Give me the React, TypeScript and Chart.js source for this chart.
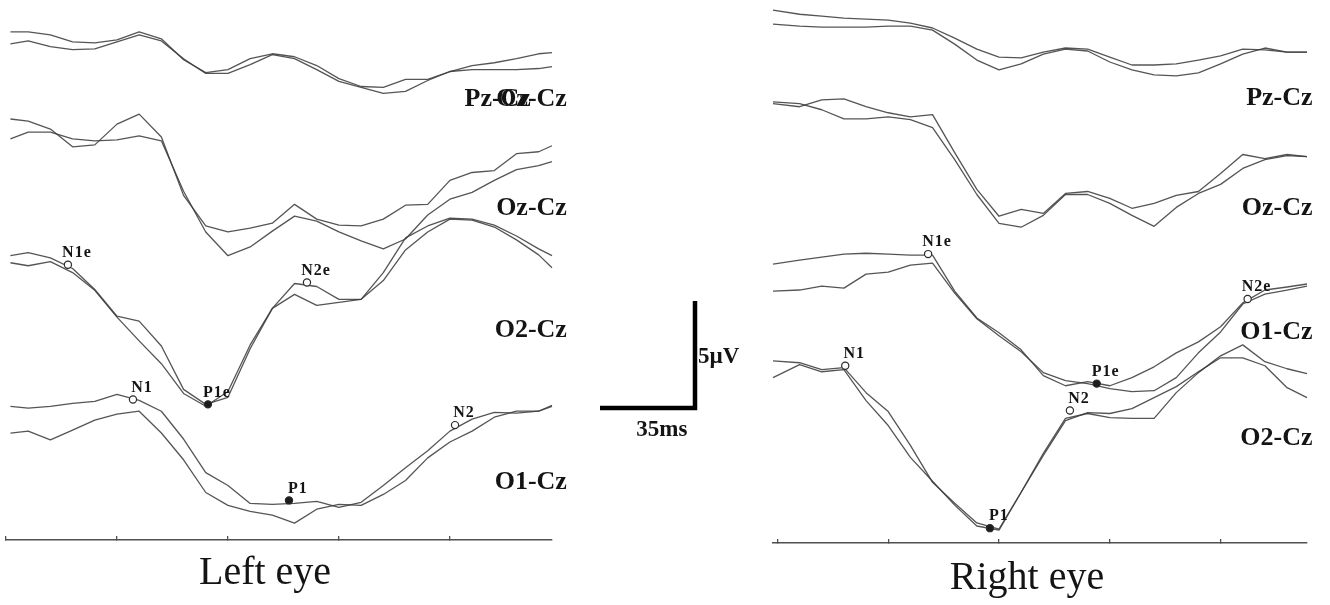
import React, { useEffect, useRef } from "react";
import { Chart, registerables } from "chart.js";

Chart.register(...registerables);

const SERIF = '"Liberation Serif", "Times New Roman", Times, serif';
const TRACE_COLOR = "rgba(62,62,62,0.88)";
const AXIS_COLOR = "#505050";
const TEXT_COLOR = "#141414";

// ---------- time axis (ms) ----------
const TICK_MS = [0, 50, 100, 150, 200];

// ---------- LEFT EYE (µV, negative-up display, offsets stacked) ----------
const LEFT_TIME = [2, 10, 20, 30, 40, 50, 60, 70, 80, 90, 100, 110, 120, 130, 140, 150, 160, 170, 180, 190, 200, 210, 220, 230, 240, 246];

const L_PZ_A = [1.25, 1.25, 1.39, 1.71, 1.76, 1.62, 1.25, 1.57, 2.55, 3.15, 3.01, 2.5, 2.27, 2.41, 2.82, 3.43, 3.8, 3.84, 3.47, 3.47, 3.1, 2.82, 2.69, 2.5, 2.27, 2.22];
const L_PZ_B = [1.81, 1.67, 1.94, 2.08, 2.04, 1.71, 1.39, 1.67, 2.5, 3.19, 3.19, 2.78, 2.31, 2.5, 3.01, 3.56, 3.84, 4.12, 4.03, 3.52, 3.1, 3.01, 3.01, 3.01, 2.96, 2.87];
const L_OZ_A = [5.32, 5.42, 5.79, 6.62, 6.53, 5.56, 5.09, 6.16, 8.89, 10.32, 10.6, 10.42, 10.19, 9.31, 10.0, 10.28, 10.32, 10.0, 9.35, 9.31, 8.19, 7.82, 7.73, 6.94, 6.85, 6.57];
const L_OZ_B = [6.25, 5.93, 5.93, 6.25, 6.34, 6.3, 6.11, 6.34, 8.7, 10.6, 11.71, 11.3, 10.56, 9.86, 10.09, 10.6, 11.02, 11.39, 10.93, 9.81, 9.07, 8.75, 8.19, 7.69, 7.5, 7.31];
const L_O2_A = [11.71, 11.57, 11.81, 12.31, 13.29, 14.54, 14.77, 15.93, 17.96, 18.66, 18.33, 16.06, 14.17, 13.01, 13.15, 13.75, 13.75, 12.5, 10.88, 10.32, 9.95, 10.0, 10.28, 10.79, 11.39, 11.71];
const L_O2_B = [12.04, 12.18, 11.99, 12.5, 13.33, 14.58, 15.69, 16.76, 18.15, 18.75, 18.06, 15.88, 14.17, 13.52, 14.03, 13.89, 13.75, 12.87, 11.44, 10.6, 10.0, 10.05, 10.37, 10.97, 11.67, 12.27];
const L_O1_A = [18.75, 18.84, 18.75, 18.61, 18.52, 18.19, 18.47, 18.98, 20.28, 21.85, 22.45, 23.29, 23.33, 23.29, 23.19, 23.47, 23.24, 22.45, 21.62, 20.83, 19.91, 19.35, 19.03, 19.07, 18.98, 18.7];
const L_O1_B = [20.0, 19.91, 20.32, 19.86, 19.4, 19.12, 18.98, 20.0, 21.25, 22.78, 23.38, 23.66, 23.84, 24.21, 23.56, 23.33, 23.38, 22.87, 22.22, 21.16, 20.42, 19.91, 19.26, 18.98, 18.98, 18.75];

const L_PEAK_NAMES = ["N1e", "P1e", "N2e", "N1", "P1", "N2"];
const L_PEAK_MS = [27.9, 91.0, 135.6, 57.2, 127.5, 202.3];
const L_PEAK_UV = [12.13, 18.66, 12.96, 18.43, 23.15, 19.63];

const L_CHANNELS = ["Pz-Cz", "Oz-Cz", "Oz-Cz", "O2-Cz", "O1-Cz"];
const L_CHANNEL_MS = [236.5, 252.7, 252.7, 252.7, 252.7];
const L_CHANNEL_UV = [4.4, 4.4, 9.49, 15.19, 22.31];

const L_TITLE = "Left eye";
const L_TITLE_MS = 116.7;
const L_TITLE_UV = 26.57;

// ---------- RIGHT EYE ----------
const RIGHT_TIME = [-2, 10, 20, 30, 40, 50, 60, 70, 80, 90, 100, 110, 120, 130, 140, 150, 160, 170, 180, 190, 200, 210, 220, 230, 239];

const R_PZ_A = [0.23, 0.42, 0.51, 0.6, 0.65, 0.69, 0.83, 1.06, 1.53, 2.04, 2.41, 2.45, 2.18, 1.99, 2.04, 2.41, 2.78, 2.78, 2.73, 2.55, 2.36, 2.04, 2.08, 2.18, 2.18];
const R_PZ_B = [0.88, 0.97, 1.02, 1.02, 1.02, 0.97, 0.97, 1.16, 1.81, 2.55, 3.01, 2.73, 2.27, 2.04, 2.13, 2.64, 3.01, 3.24, 3.29, 3.15, 2.73, 2.27, 1.99, 2.18, 2.18];
const R_OZ_A = [4.58, 4.72, 4.4, 4.35, 4.72, 5.0, 5.19, 5.09, 6.85, 8.56, 9.81, 9.49, 9.68, 8.75, 8.66, 8.98, 9.44, 9.21, 8.84, 8.66, 7.82, 6.94, 7.13, 6.94, 7.04];
const R_OZ_B = [4.49, 4.58, 4.86, 5.28, 5.28, 5.19, 5.32, 5.69, 7.18, 8.8, 10.14, 10.32, 9.77, 8.8, 8.8, 9.21, 9.77, 10.28, 9.4, 8.75, 8.33, 7.59, 7.18, 6.99, 7.04];
const R_O1_A = [12.04, 11.85, 11.71, 11.57, 11.53, 11.57, 11.62, 11.62, 13.29, 14.54, 15.23, 16.02, 17.22, 17.69, 17.5, 17.69, 17.31, 16.81, 16.16, 15.65, 14.95, 13.84, 13.24, 13.1, 12.96];
const R_O1_B = [13.29, 13.24, 13.06, 13.15, 12.5, 12.41, 12.08, 11.99, 13.38, 14.58, 15.37, 16.11, 17.08, 17.45, 17.59, 17.82, 17.96, 17.92, 17.31, 16.16, 15.19, 13.89, 13.43, 13.24, 13.06];
const R_O2_A = [16.53, 16.62, 16.94, 16.85, 18.01, 18.89, 20.46, 22.18, 23.15, 24.07, 24.35, 22.64, 20.83, 19.21, 18.98, 19.17, 19.21, 19.21, 18.01, 17.08, 16.3, 15.79, 16.57, 16.9, 17.13];
const R_O2_B = [17.31, 16.71, 17.04, 16.94, 18.38, 19.54, 21.02, 22.13, 23.24, 24.21, 24.4, 22.64, 20.93, 19.31, 18.94, 18.98, 18.75, 18.24, 17.73, 17.04, 16.39, 16.39, 16.76, 17.78, 18.24];

const R_PEAK_NAMES = ["N1e", "P1e", "N2e", "N1", "P1", "N2"];
const R_PEAK_MS = [68.0, 144.1, 212.2, 30.6, 95.9, 132.0];
const R_PEAK_UV = [11.57, 17.59, 13.66, 16.76, 24.31, 18.84];

const R_CHANNELS = ["Pz-Cz", "Oz-Cz", "O1-Cz", "O2-Cz"];
const R_CHANNEL_MS = [241.5, 241.5, 241.5, 241.5];
const R_CHANNEL_UV = [4.35, 9.44, 15.19, 20.14];

const R_TITLE = "Right eye";
const R_TITLE_MS = 112.6;
const R_TITLE_UV = 26.67;

// ---------- calibration bar ----------
const BAR_MS = 35;
const BAR_UV = 5;

type TextItem = { text: string; x: number; y: number; align: CanvasTextAlign; font: string; spacing?: number };

function textPlugin(items: TextItem[]) {
  return {
    id: "texts",
    afterDatasetsDraw(chart: any) {
      const { ctx, scales } = chart;
      ctx.save();
      for (const it of items) {
        const px = scales.x.getPixelForValue(it.x);
        const py = scales.y.getPixelForValue(it.y);
        ctx.font = it.font;
        ctx.fillStyle = TEXT_COLOR;
        ctx.textAlign = it.align;
        ctx.textBaseline = "middle";
        (ctx as any).letterSpacing = `${it.spacing ?? 0}px`;
        ctx.fillText(it.text, px, py);
      }
      ctx.restore();
    },
  };
}

const peakLabelPlugin = {
  id: "peakLabels",
  afterDatasetsDraw(chart: any) {
    const { ctx } = chart;
    const meta = chart.getDatasetMeta(0);
    const names: string[] = chart.data.datasets[0].peakNames || [];
    ctx.save();
    ctx.font = `bold 16px ${SERIF}`;
    ctx.fillStyle = TEXT_COLOR;
    ctx.textAlign = "center";
    ctx.textBaseline = "middle";
    (ctx as any).letterSpacing = "1px";
    meta.data.forEach((pt: any, i: number) => {
      ctx.fillText(names[i], pt.x + 9, pt.y - 12);
    });
    ctx.restore();
  },
};

function buildPanel(p: {
  time: number[];
  traces: number[][];
  peakNames: string[];
  peakMs: number[];
  peakUv: number[];
  channels: string[];
  channelMs: number[];
  channelUv: number[];
  xMin: number;
  xMax: number;
  title: string;
  titleMs: number;
  titleUv: number;
  padding: { left: number; right: number; top: number; bottom: number };
  axisHeight: number;
}) {
  const markerDs: any = {
    type: "line",
    showLine: false,
    peakNames: p.peakNames,
    data: p.peakMs.map((t, i) => ({ x: t, y: p.peakUv[i] })),
    pointRadius: 3.6,
    pointBorderWidth: 1.2,
    pointBorderColor: "#2b2b2b",
    pointBackgroundColor: p.peakNames.map((n) => (n.startsWith("P") ? "#1c1c1c" : "#ffffff")),
    clip: false,
  };
  const traceDs = p.traces.map((vals) => ({
    type: "line",
    data: p.time.map((t, i) => ({ x: t, y: vals[i] })),
    borderColor: TRACE_COLOR,
    borderWidth: 1.3,
    pointRadius: 0,
    tension: 0,
    fill: false,
    borderJoinStyle: "round",
    clip: false,
  }));
  const texts: TextItem[] = p.channels.map((c, i) => ({
    text: c,
    x: p.channelMs[i],
    y: p.channelUv[i],
    align: "right" as CanvasTextAlign,
    font: `bold 26px ${SERIF}`,
  }));
  texts.push({ text: p.title, x: p.titleMs, y: p.titleUv, align: "center", font: `40px ${SERIF}` });
  return {
    type: "line",
    data: { datasets: [markerDs, ...traceDs] },
    options: {
      responsive: false,
      animation: false,
      events: [],
      layout: { padding: p.padding },
      plugins: { legend: { display: false }, tooltip: { enabled: false } },
      scales: {
        x: {
          type: "linear",
          min: p.xMin,
          max: p.xMax,
          afterBuildTicks: (s: any) => {
            s.ticks = TICK_MS.map((v) => ({ value: v }));
          },
          afterFit: (s: any) => {
            s.height = p.axisHeight;
          },
          ticks: { display: false },
          grid: { drawOnChartArea: false, drawTicks: true, tickLength: -4, color: AXIS_COLOR, lineWidth: 1.3 },
          border: { display: true, color: AXIS_COLOR, width: 1.6 },
          title: { display: false },
        },
        y: { type: "linear", min: 0, max: 25, reverse: true, display: false },
      },
    },
    plugins: [textPlugin(texts), peakLabelPlugin],
  } as any;
}

const buildLeft = () =>
  buildPanel({
    time: LEFT_TIME,
    traces: [L_PZ_A, L_PZ_B, L_OZ_A, L_OZ_B, L_O2_A, L_O2_B, L_O1_A, L_O1_B],
    peakNames: L_PEAK_NAMES,
    peakMs: L_PEAK_MS,
    peakUv: L_PEAK_UV,
    channels: L_CHANNELS,
    channelMs: L_CHANNEL_MS,
    channelUv: L_CHANNEL_UV,
    xMin: 0,
    xMax: 246,
    title: L_TITLE,
    titleMs: L_TITLE_MS,
    titleUv: L_TITLE_UV,
    padding: { left: 6, right: 28, top: 0, bottom: 0 },
    axisHeight: 65,
  });

const buildRight = () =>
  buildPanel({
    time: RIGHT_TIME,
    traces: [R_PZ_A, R_PZ_B, R_OZ_A, R_OZ_B, R_O1_A, R_O1_B, R_O2_A, R_O2_B],
    peakNames: R_PEAK_NAMES,
    peakMs: R_PEAK_MS,
    peakUv: R_PEAK_UV,
    channels: R_CHANNELS,
    channelMs: R_CHANNEL_MS,
    channelUv: R_CHANNEL_UV,
    xMin: -2,
    xMax: 239,
    title: R_TITLE,
    titleMs: R_TITLE_MS,
    titleUv: R_TITLE_UV,
    padding: { left: 13, right: 23, top: 3, bottom: 0 },
    axisHeight: 62,
  });

const buildBar = () =>
  ({
    type: "line",
    data: {
      datasets: [
        {
          data: [
            { x: 0, y: 0 },
            { x: BAR_MS, y: 0 },
            { x: BAR_MS, y: BAR_UV },
          ],
          borderColor: "#000000",
          borderWidth: 4.5,
          borderJoinStyle: "miter",
          borderCapStyle: "butt",
          pointRadius: 0,
          tension: 0,
          fill: false,
          clip: false,
        },
      ],
    },
    options: {
      responsive: false,
      animation: false,
      events: [],
      layout: { padding: { left: 20, right: 65, top: 301, bottom: 197 } },
      plugins: { legend: { display: false }, tooltip: { enabled: false } },
      scales: {
        x: { type: "linear", min: 0, max: BAR_MS, display: false },
        y: { type: "linear", min: 0, max: BAR_UV, display: false },
      },
    },
    plugins: [
      textPlugin([
        { text: `${BAR_UV}µV`, x: BAR_MS + 1.1, y: 2.4, align: "left", font: `bold 23px ${SERIF}` },
        { text: `${BAR_MS}ms`, x: 22.8, y: -1.03, align: "center", font: `bold 23px ${SERIF}` },
      ]),
    ],
  } as any);

function ChartCanvas(props: { build: () => any; left: number; top: number; width: number; height: number }) {
  const ref = useRef<HTMLCanvasElement>(null);
  useEffect(() => {
    const chart = new Chart(ref.current as HTMLCanvasElement, props.build());
    return () => chart.destroy();
  }, []);
  return (
    <canvas
      ref={ref}
      width={props.width}
      height={props.height}
      style={{ position: "absolute", left: props.left, top: props.top, width: props.width, height: props.height }}
    />
  );
}

export default function App() {
  return (
    <div style={{ position: "absolute", left: 0, top: 0, width: 1330, height: 605, background: "#ffffff", overflow: "hidden" }}>
      <ChartCanvas build={buildLeft} left={0} top={0} width={580} height={605} />
      <ChartCanvas build={buildBar} left={580} top={0} width={180} height={605} />
      <ChartCanvas build={buildRight} left={760} top={0} width={570} height={605} />
    </div>
  );
}
